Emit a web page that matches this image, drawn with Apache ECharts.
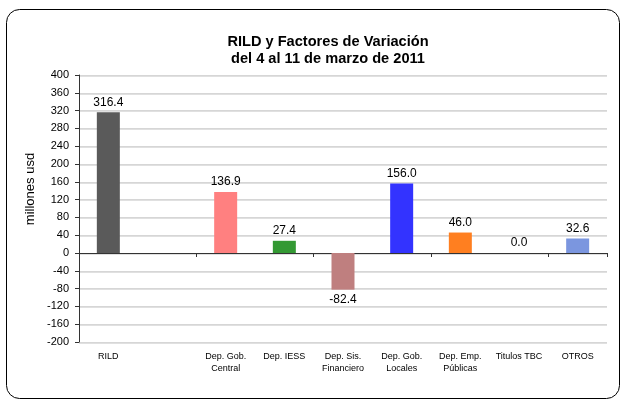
<!DOCTYPE html>
<html>
<head>
<meta charset="utf-8">
<script src="https://cdn.jsdelivr.net/npm/echarts@6/dist/echarts.min.js"></script>
<style>
  html, body { margin: 0; padding: 0; background: #fff; }
  #chart { width: 622px; height: 401px; }
</style>
</head>
<body>
<div id="chart"></div>
<script>
// categories and values
let categories = ['RILD', '', 'Dep. Gob.\nCentral', 'Dep. IESS', 'Dep. Sis.\nFinanciero', 'Dep. Gob.\nLocales', 'Dep. Emp.\nPúblicas', 'Titulos TBC', 'OTROS']
let values = [316.4, null, 136.9, 27.4, -82.4, 156.0, 46.0, 0.0, 32.6]
let barColors = ['#5a5a5a', '#ffffff', '#ff8080', '#339933', '#bf7f7f', '#3333ff', '#ff7f20', '#ffffff', '#7b96df']
let yTicks = { min: -200, max: 400, step: 40 }

let chart = echarts.init(document.getElementById('chart'))

let barData = values.map(function (v, i) {
  if (v === null) return '-'
  return {
    value: v,
    itemStyle: { color: barColors[i] },
    label: { position: v < 0 ? 'bottom' : 'top' }
  }
})

let option = {
  animation: false,
  textStyle: { fontFamily: '"Liberation Sans", Arial, sans-serif' },
  title: {
    text: 'RILD y Factores de Variación\ndel 4 al 11 de marzo de 2011',
    left: 323,
    textAlign: 'center',
    top: 28,
    textStyle: { fontSize: 14.6, fontWeight: 'bold', color: '#000', lineHeight: 17 }
  },
  graphic: [
    {
      type: 'rect',
      shape: { x: 6.5, y: 9.5, width: 613, height: 389, r: 13 },
      style: { fill: 'none', stroke: '#000', lineWidth: 1 },
      silent: true
    },
    {
      type: 'text',
      x: 30,
      y: 189,
      rotation: Math.PI / 2,
      style: {
        text: 'millones usd',
        fill: '#000',
        font: '13px "Liberation Sans", Arial, sans-serif',
        align: 'center',
        verticalAlign: 'middle'
      }
    }
  ],
  grid: { left: 79, right: 15, top: 75, bottom: 59 },
  xAxis: [
    {
      type: 'category',
      data: categories,
      axisLine: { show: false, onZero: false },
      axisTick: { show: false },
      axisLabel: { color: '#000', fontSize: 9, margin: 9, lineHeight: 12, interval: 0 }
    },
    {
      type: 'category',
      data: categories,
      position: 'bottom',
      axisLine: { onZero: true, lineStyle: { color: '#333', width: 1 } },
      axisTick: { show: true, length: 4, lineStyle: { color: '#333' } },
      axisLabel: { show: false }
    }
  ],
  yAxis: {
    type: 'value',
    min: yTicks.min,
    max: yTicks.max,
    interval: yTicks.step,
    axisLine: { show: true, lineStyle: { color: '#333' } },
    axisTick: { show: true, length: 4, lineStyle: { color: '#333' } },
    axisLabel: { color: '#000', fontSize: 11, margin: 10 },
    splitLine: {
      lineStyle: { color: '#d6d6d6', width: 1, shadowColor: 'rgba(0,0,0,0.12)', shadowOffsetY: 1 }
    }
  },
  series: [
    {
      type: 'bar',
      xAxisIndex: 0,
      data: barData,
      barWidth: 23,
      label: {
        show: true,
        color: '#000',
        fontSize: 12,
        distance: 4,
        formatter: function (p) { return Number(p.value).toFixed(1) }
      }
    }
  ]
}

chart.setOption(option)
</script>
</body>
</html>
